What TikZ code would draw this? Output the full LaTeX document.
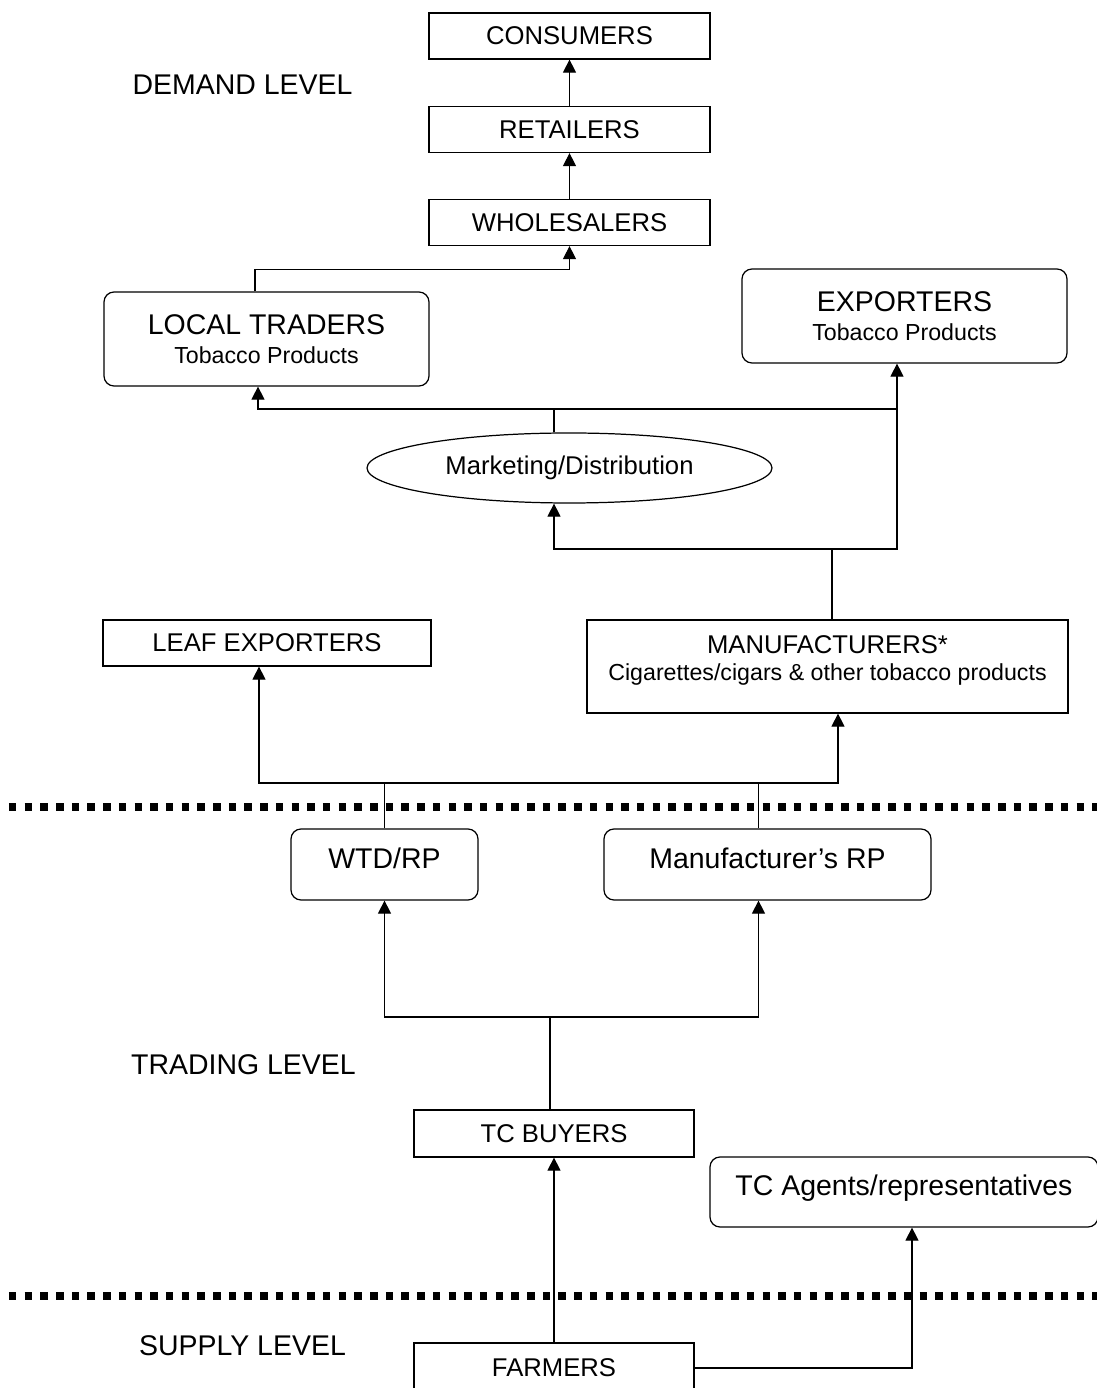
\documentclass[tikz,border=0pt]{standalone}
\usepackage{fontspec}
\setmainfont{Liberation Sans}
\usetikzlibrary{arrows.meta,shapes.geometric}
\newcommand{\lvlfont}{\fontsize{16.2}{16.2}\selectfont}
\newcommand{\boxfont}{\fontsize{14.6}{15.4}\selectfont}
\newcommand{\subfont}{\fontsize{13.2}{15.4}\selectfont}
\tikzset{
  box/.style={draw,line width=0.7pt,minimum height=0.92cm,inner sep=0pt,font=\boxfont},
  rbox/.style={box,rounded corners=0.2cm},
  tall/.style={minimum height=1.88cm,align=center},
  raised/.style={text height=0.55cm,text depth=0.40cm},
  lvl/.style={font=\lvlfont},
  link/.style={line width=0.6pt},
  arr/.style={link,-{Triangle[length=0.26cm,width=0.26cm]}},
  dotline/.style={line width=0.15cm,dash pattern=on 0.15cm off 0.164cm}
}

\begin{document}
\begin{tikzpicture}
    \useasboundingbox (0,0) rectangle (21.94,27.76);
    \fill[white] (0,0) rectangle (21.94,27.76);
    \foreach \y in {11.62,1.84}
      \draw[dotline] (0.18,\y) -- (21.94,\y);

    \node[lvl] (demand) at (4.85,26.06) {DEMAND LEVEL};
    \node[lvl] (trading) at (4.87,6.46) {TRADING LEVEL};
    \node[lvl] (supply) at (4.85,0.84) {SUPPLY LEVEL};

    \node[box,minimum width=5.62cm] (consumers) at (11.39,27.04) {CONSUMERS};
    \node[box,minimum width=5.62cm] (retailers) at (11.39,25.17) {RETAILERS};
    \node[box,minimum width=5.62cm] (wholesalers) at (11.39,23.31) {WHOLESALERS};
    \node[rbox,tall,minimum width=6.5cm,font=\lvlfont] (local) at (5.33,20.98) {LOCAL TRADERS\\{\subfont Tobacco Products}};
    \node[rbox,tall,minimum width=6.5cm,font=\lvlfont] (exporters) at (18.09,21.44) {EXPORTERS\\{\subfont Tobacco Products}};
    \node[ellipse,draw,line width=0.7pt,minimum width=8.1cm,minimum height=1.4cm,inner sep=0pt,font=\boxfont] (mkt) at (11.39,18.4) {Marketing/Distribution};
    \node[box,minimum width=6.56cm] (leaf) at (5.34,14.9) {LEAF EXPORTERS};
    \node[box,tall,minimum width=9.62cm,minimum height=1.86cm] (manuf) at (16.55,14.43) {MANUFACTURERS*\\{\subfont Cigarettes/cigars \& other tobacco products}\rule[-0.32cm]{0pt}{0.32cm}};
    \node[rbox,raised,minimum width=3.74cm,minimum height=1.42cm,font=\lvlfont] (wtd) at (7.69,10.47) {WTD/RP};
    \node[rbox,raised,minimum width=6.54cm,minimum height=1.42cm,font=\lvlfont] (mrp) at (15.35,10.47) {Manufacturer’s RP};
    \node[box,minimum width=5.6cm,minimum height=0.94cm] (tcb) at (11.08,5.09) {TC BUYERS};
    \node[rbox,raised,minimum width=7.76cm,minimum height=1.4cm,font=\lvlfont] (agents) at (18.08,3.92) {TC Agents/representatives};
    \node[box,minimum width=5.6cm,minimum height=1.0cm] (farmers) at (11.08,0.4) {FARMERS};

    \coordinate (jd) at (11.08,19.58);
    \coordinate (jm) at (16.64,16.78);
    \coordinate (jt) at (7.7,12.1);
    \coordinate (jb) at (11.0,7.42);
    \path ([xshift=-0.15cm]exporters.south) coordinate (ex)
          ([xshift=-0.18cm]mrp.north) coordinate (mt)
          ([xshift=-0.18cm]mrp.south) coordinate (mb);

    \draw[arr] (retailers) -- (consumers);
    \draw[arr] (wholesalers) -- (retailers);
    \draw[arr] ([xshift=-0.23cm]local.north) |- ([yshift=-0.47cm]wholesalers.south) -- (wholesalers.south);

    \draw[link] (mkt.north -| jd) |- (ex |- jd);
    \draw[arr] (jd) -| ([xshift=-0.17cm]local.south);
    \draw[link] (manuf.north -| jm) -- (jm);
    \draw[arr] (jm) -| (ex);
    \draw[arr] (jm) -| (mkt.south -| jd);

    \draw[link] (wtd.north) -- (wtd.north |- jt);
    \draw[link] (mt) -- (mt |- jt);
    \draw[arr] (wtd.north |- jt) -| ([xshift=-0.16cm]leaf.south);
    \draw[arr] (wtd.north |- jt) -| ([xshift=0.21cm]manuf.south);

    \draw[link] (tcb.north -| jb) -- (jb);
    \draw[arr] (jb) -| (wtd.south);
    \draw[arr] (jb) -| (mb);
    \draw[arr] (farmers) -- (tcb);
    \draw[arr] (farmers.east) -| ([xshift=0.16cm]agents.south);
  \end{tikzpicture}
\end{document}
